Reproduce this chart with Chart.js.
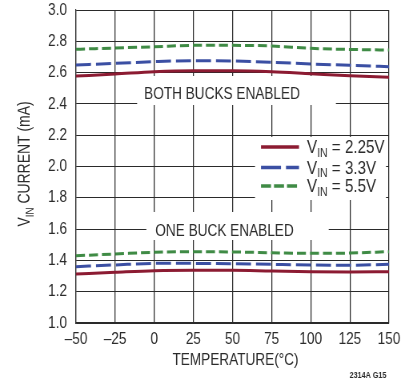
<!DOCTYPE html>
<html>
<head>
<meta charset="utf-8">
<script src="https://cdn.jsdelivr.net/npm/chart.js@4.4.1/dist/chart.umd.min.js"></script>
<style>
html,body{margin:0;padding:0;background:#fff;overflow:hidden;}
#wrap{width:417px;height:381px;position:relative;}
#c{width:417px;height:381px;display:block;}
</style>
</head>
<body>
<div id="wrap"><canvas id="c" width="521" height="381" style="width:417px;height:381px"></canvas></div>
<script>
// ---- data ----
const temps = [-50, -25, 0, 25, 50, 75, 100, 125, 150];
const both225 = [2.578, 2.591, 2.606, 2.612, 2.612, 2.606, 2.593, 2.580, 2.570];
const both33  = [2.649, 2.659, 2.670, 2.676, 2.674, 2.666, 2.655, 2.647, 2.638];
const both55  = [2.749, 2.757, 2.765, 2.774, 2.774, 2.770, 2.755, 2.748, 2.744];
const one225  = [1.313, 1.324, 1.334, 1.337, 1.337, 1.332, 1.328, 1.326, 1.328];
const one33   = [1.360, 1.371, 1.381, 1.381, 1.379, 1.375, 1.371, 1.369, 1.375];
const one55   = [1.430, 1.441, 1.452, 1.456, 1.454, 1.449, 1.445, 1.447, 1.456];
const xTicks = [-50, -25, 0, 25, 50, 75, 100, 125, 150];
const yTicks = [1.0, 1.2, 1.4, 1.6, 1.8, 2.0, 2.2, 2.4, 2.6, 2.8, 3.0];
const seriesNames = ['2.25V', '3.3V', '5.5V'];

// the canvas is drawn wider and squeezed by CSS to get a condensed type look
const K = 417 / 521;
const FONT = "'Liberation Sans', Arial, sans-serif";
const TXT = '#2b2b2b';
const GRID = '#2a2a2a';
const styles = [
  {color: '#8c1b32', dash: []},
  {color: '#3b4fa3', dash: [15 / K, 5 / K]},
  {color: '#3f8b45', dash: [9 / K, 4 / K]}
];

function pts(ys){ return temps.map((t,i)=>({x:t, y:ys[i]})); }
function ds(ys, s, label){
  return {label: label, data: pts(ys), borderColor: styles[s].color, borderDash: styles[s].dash,
    borderWidth: 3, pointRadius: 0, fill: false, tension: 0.4, cubicInterpolationMode: 'monotone'};
}

const boxes = [
  {text: 'BOTH BUCKS ENABLED', x: 43.3, y: 2.466, padL: 7, padR: 36, top: 76, bot: 105},
  {text: 'ONE BUCK ENABLED', x: 44.9, y: 1.594, padL: 9, padR: 35, top: 212, bot: 240}
];

const decor = {
  id: 'decor',
  beforeDatasetsDraw(chart){
    const ctx = chart.ctx, xs = chart.scales.x, ys = chart.scales.y;
    ctx.save();
    ctx.font = '17px ' + FONT;
    ctx.textBaseline = 'middle';
    ctx.textAlign = 'center';
    boxes.forEach(b => {
      const cx = xs.getPixelForValue(b.x), cy = ys.getPixelForValue(b.y);
      const w = ctx.measureText(b.text).width;
      ctx.fillStyle = '#fff';
      ctx.fillRect(cx - w/2 - b.padL / K, b.top, w + (b.padL + b.padR) / K, b.bot - b.top);
      ctx.fillStyle = TXT;
      ctx.fillText(b.text, cx, cy + 1);
    });
    // legend
    const lx = 255 / K, ly = 137;
    ctx.fillStyle = '#fff';
    ctx.fillRect(lx, ly, 131 / K, 63);
    const rows = [147, 167.5, 186];
    seriesNames.forEach((n, i) => {
      const y = rows[i];
      ctx.save();
      ctx.strokeStyle = styles[i].color;
      ctx.lineWidth = 3.5;
      ctx.setLineDash(i === 1 ? [20 / K, 5 / K] : (i === 2 ? [10 / K, 3 / K] : []));
      ctx.beginPath(); ctx.moveTo(261 / K, y); ctx.lineTo(299 / K, y); ctx.stroke();
      ctx.restore();
      ctx.fillStyle = TXT;
      ctx.textAlign = 'left';
      ctx.font = '19px ' + FONT;
      let tx = 307 / K;
      ctx.fillText('V', tx, y + 1);
      tx += ctx.measureText('V').width;
      ctx.font = '13px ' + FONT;
      ctx.fillText('IN', tx, y + 6);
      tx += ctx.measureText('IN').width;
      ctx.font = '19px ' + FONT;
      ctx.fillText(' = ' + n, tx, y + 1);
    });
    ctx.restore();
  },
  afterDraw(chart){
    const ctx = chart.ctx;
    ctx.save();
    ctx.fillStyle = TXT;
    ctx.textBaseline = 'middle';
    // y title: undo squeeze, rotate, then condense along text
    ctx.translate(25 / K, 164);
    ctx.scale(1 / K, 1);
    ctx.rotate(-Math.PI/2);
    ctx.scale(0.82, 1);
    const p1 = 'V', p2 = 'IN', p3 = ' CURRENT (mA)';
    ctx.font = '17px ' + FONT; const w1 = ctx.measureText(p1).width, w3 = ctx.measureText(p3).width;
    ctx.font = '12px ' + FONT; const w2 = ctx.measureText(p2).width;
    let x0 = -(w1 + w2 + w3)/2;
    ctx.textAlign = 'left';
    ctx.font = '17px ' + FONT; ctx.fillText(p1, x0, 0); x0 += w1;
    ctx.font = '12px ' + FONT; ctx.fillText(p2, x0, 5); x0 += w2;
    ctx.font = '17px ' + FONT; ctx.fillText(p3, x0, 0);
    ctx.restore();
    ctx.save();
    ctx.fillStyle = TXT;
    ctx.textBaseline = 'middle';
    ctx.textAlign = 'center';
    ctx.font = '17px ' + FONT;
    ctx.fillText('TEMPERATURE(°C)', 235.5 / K, 360);
    ctx.font = 'bold 9px ' + FONT;
    ctx.fillText('2314A G15', 368 / K, 376);
    ctx.restore();
  }
};

new Chart(document.getElementById('c'), {
  type: 'line',
  data: {
    datasets: [
      ds(both225, 0, 'VIN = 2.25V'), ds(both33, 1, 'VIN = 3.3V'), ds(both55, 2, 'VIN = 5.5V'),
      ds(one225, 0, 'VIN = 2.25V'), ds(one33, 1, 'VIN = 3.3V'), ds(one55, 2, 'VIN = 5.5V')
    ]
  },
  options: {
    responsive: false,
    animation: false,
    devicePixelRatio: 1,
    layout: {padding: {top: 10, right: 28 / K, left: 0, bottom: 0}},
    plugins: {legend: {display: false}, tooltip: {enabled: false}},
    scales: {
      x: {
        type: 'linear', min: -50, max: 150,
        afterBuildTicks(s){ s.ticks = xTicks.map(v => ({value: v})); },
        afterFit(s){ s.height = 58; s.paddingLeft = 0; s.paddingRight = 0; s.paddingTop = 0; s.paddingBottom = 0; },
        ticks: {color: TXT, font: {family: FONT, size: 17}, padding: 6, maxRotation: 0,
          callback: v => (v < 0 ? '\u2013' + Math.abs(v) : String(v))},
        grid: {color: GRID, lineWidth: 1.25, drawTicks: false},
        border: {color: GRID, width: 1.5}
      },
      y: {
        type: 'linear', min: 1.0, max: 3.0,
        afterBuildTicks(s){ s.ticks = yTicks.map(v => ({value: v})); },
        afterFit(s){ s.width = 76 / K; s.paddingLeft = 0; s.paddingRight = 0; s.paddingTop = 0; s.paddingBottom = 0; },
        ticks: {color: TXT, font: {family: FONT, size: 17}, padding: 9 / K,
          callback: v => v.toFixed(1)},
        grid: {color: GRID, lineWidth: 1, drawTicks: false},
        border: {color: GRID, width: 1.2}
      }
    }
  },
  plugins: [decor]
});
</script>
</body>
</html>
